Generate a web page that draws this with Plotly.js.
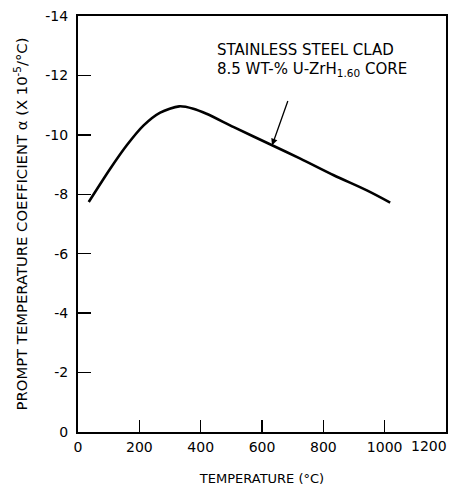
<!DOCTYPE html>
<html>
<head>
<meta charset="utf-8">
<script src="https://cdn.plot.ly/plotly-3.0.1.min.js"></script>
<style>html,body{margin:0;padding:0;background:#fff;}#chart{width:458px;height:486px;}</style>
</head>
<body>
<div id="chart"></div>
<script>
const temperature = [35, 105, 159, 214, 268, 330, 376, 419, 508, 633, 725, 834, 942, 1018];
const alpha = [-7.74, -8.86, -9.65, -10.32, -10.75, -10.96, -10.88, -10.71, -10.26, -9.65, -9.2, -8.64, -8.13, -7.72];
const xTicks = [0, 200, 400, 600, 800, 1000, 1200];
const xTickText = ["0", "200", "400", "600", "800", "1000", "1200"];
const yTicks = [0, -2, -4, -6, -8, -10, -12, -14];
const yTickText = ["0", "-2", "-4", "-6", "-8", "-10", "-12", "-14"];
const labelLine1 = "STAINLESS STEEL CLAD";
const labelLine2 = "8.5 WT-% U-ZrH<sub>1.60</sub> CORE";

const font = "DejaVu Sans, sans-serif";
const M = {l: 78, r: 12, t: 16, b: 54};
const W = 458, H = 486;
const pw = W - M.l - M.r, ph = H - M.t - M.b;
const px = v => (v - M.l) / pw;
const py = v => 1 - (v - M.t) / ph;

// the last tick sits on the right frame edge; its label is drawn as an annotation so it stays inside the page
const n = xTicks.length - 1;

Plotly.newPlot("chart", [{
  x: temperature,
  y: alpha,
  mode: "lines",
  line: {color: "#000", width: 2.6, shape: "spline", smoothing: 0.8},
  hoverinfo: "skip"
}], {
  width: W, height: H,
  margin: M,
  paper_bgcolor: "#fff", plot_bgcolor: "#fff",
  showlegend: false,
  font: {family: font, color: "#000", size: 13},
  xaxis: {
    range: [0, 1200], tickvals: xTicks.slice(0, n), ticktext: xTickText.slice(0, n),
    ticks: "inside", ticklen: 12, tickwidth: 1.5, tickcolor: "#000",
    showline: true, linewidth: 2, linecolor: "#000", mirror: true,
    showgrid: false, zeroline: false,
    tickfont: {family: font, size: 14},
    ticklabelstandoff: 1,
    title: {text: "TEMPERATURE (°C)", font: {family: font, size: 13}, standoff: 20}
  },
  yaxis: {
    range: [0, -14], tickvals: yTicks, ticktext: yTickText,
    ticks: "inside", ticklen: 13, tickwidth: 1.5, tickcolor: "#000",
    showline: true, linewidth: 2, linecolor: "#000", mirror: true,
    showgrid: false, zeroline: false,
    tickfont: {family: font, size: 14},
    ticklabelstandoff: 5,
    title: {text: "PROMPT TEMPERATURE COEFFICIENT α (X 10<sup>-5</sup>/°C)", font: {family: font, size: 14.8}, standoff: 14}
  },
  annotations: [
    {x: px(215), y: py(50), xref: "paper", yref: "paper", xanchor: "left", yanchor: "middle",
     text: labelLine1, align: "left", showarrow: false, font: {family: font, size: 15}},
    {x: px(215), y: py(69), xref: "paper", yref: "paper", xanchor: "left", yanchor: "middle",
     text: labelLine2, align: "left", showarrow: false, font: {family: font, size: 15}},
    {x: xTicks[n], y: py(446), xref: "x", yref: "paper", xanchor: "right", yanchor: "middle", xshift: 3,
     text: xTickText[n], showarrow: false, font: {family: font, size: 14}},
    {x: 633, y: -9.65, xref: "x", yref: "y", ax: 686, ay: -11.19, axref: "x", ayref: "y",
     text: "", showarrow: true, arrowhead: 2, arrowsize: 1, arrowwidth: 1.3, arrowcolor: "#000"}
  ]
}, {displayModeBar: false, staticPlot: true});
</script>
</body>
</html>
